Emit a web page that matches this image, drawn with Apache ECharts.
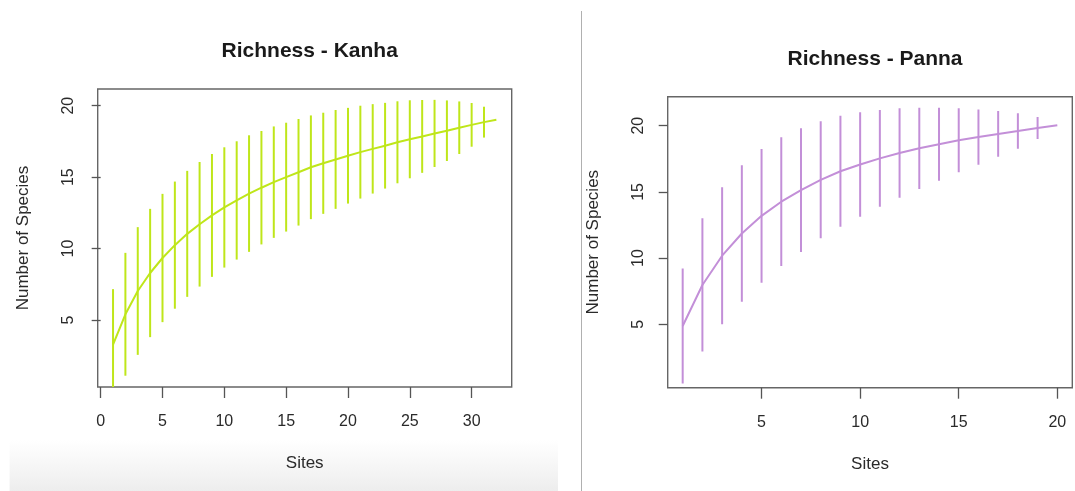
<!DOCTYPE html>
<html>
<head>
<meta charset="utf-8">
<script src="https://cdn.jsdelivr.net/npm/echarts@6/dist/echarts.min.js"></script>
<style>
html,body{margin:0;padding:0;background:#fff;}
#chart{width:1075px;height:491px;}
</style>
</head>
<body>
<div id="chart"></div>
<script>
// ---- Data ----
const kanhaSites = [1,2,3,4,5,6,7,8,9,10,11,12,13,14,15,16,17,18,19,20,21,22,23,24,25,26,27,28,29,30,31,32];
const kanhaRichness = [3.27,5.40,7.03,8.29,9.34,10.24,11.03,11.70,12.32,12.88,13.37,13.85,14.26,14.65,15.00,15.34,15.69,15.97,16.24,16.50,16.75,16.98,17.20,17.44,17.65,17.85,18.06,18.25,18.46,18.66,18.85,19.02];
const kanhaSD = [3.89,4.30,4.47,4.49,4.49,4.45,4.41,4.36,4.30,4.21,4.14,4.08,3.97,3.90,3.81,3.73,3.63,3.54,3.46,3.35,3.25,3.13,3.00,2.87,2.73,2.55,2.35,2.12,1.84,1.53,1.08,0];

const pannaSites = [1,2,3,4,5,6,7,8,9,10,11,12,13,14,15,16,17,18,19,20];
const pannaRichness = [4.87,7.97,10.18,11.86,13.19,14.26,15.13,15.91,16.56,17.07,17.53,17.94,18.29,18.60,18.90,19.14,19.38,19.60,19.83,20.03];
const pannaSD = [4.35,5.03,5.17,5.15,5.05,4.86,4.67,4.42,4.20,3.94,3.65,3.38,3.07,2.76,2.42,2.09,1.73,1.34,0.83,0];

const kanhaXTicks = [0,5,10,15,20,25,30];
const kanhaYTicks = [5,10,15,20];
const pannaXTicks = [5,10,15,20];
const pannaYTicks = [5,10,15,20];

const titles = ['Richness - Kanha', 'Richness - Panna'];
const xName = 'Sites';
const yName = 'Number of Species';

const kanhaColor = '#bfe61a';
const pannaColor = '#c38fd8';

// ---- Build ----
const FONT = '"Liberation Sans", Arial, Helvetica, sans-serif';
const chart = echarts.init(document.getElementById('chart'), null, {renderer:'canvas'});

function lineData(x, y){ return x.map((v,i)=>[v,y[i]]); }
function barData(x, y, sd){ return x.map((v,i)=>[v, y[i]-sd[i], y[i]+sd[i]]); }

function errRender(color){
  return function(params, api){
    const x = api.value(0);
    const p1 = api.coord([x, api.value(1)]);
    const p2 = api.coord([x, api.value(2)]);
    return {
      type:'line',
      shape:{x1:p1[0], y1:p1[1], x2:p2[0], y2:p2[1]},
      style:{stroke:color, lineWidth:2}
    };
  };
}

function xAxis(grid, min, max, ticks){
  return {
    type:'value', gridIndex:grid, min:min, max:max,
    splitLine:{show:false},
    axisLine:{show:false},
    axisTick:{show:true, inside:false, length:11, customValues:ticks, lineStyle:{color:'#555', width:1.3}},
    axisLabel:{show:true, customValues:ticks, margin:27, fontSize:16, color:'#2a2a2a', fontFamily:FONT},
    name:xName, nameLocation:'middle', nameGap:68,
    nameTextStyle:{fontSize:17, color:'#2a2a2a', fontFamily:FONT}
  };
}
function yAxis(grid, min, max, ticks){
  return {
    type:'value', gridIndex:grid, min:min, max:max,
    splitLine:{show:false},
    axisLine:{show:false},
    axisTick:{show:true, inside:false, length:9, customValues:ticks, lineStyle:{color:'#555', width:1.3}},
    axisLabel:{show:true, customValues:ticks, rotate:90, margin:21, fontSize:16, color:'#2a2a2a', fontFamily:FONT},
    name:yName, nameLocation:'middle', nameGap:66, nameRotate:90,
    nameTextStyle:{fontSize:17, color:'#2a2a2a', fontFamily:FONT}
  };
}

const option = {
  backgroundColor:'#fff',
  animation:false,
  title:[
    {text:titles[0], left:304.7, top:36, textAlign:'center',
     textStyle:{fontSize:21, fontWeight:'bold', color:'#1a1a1a', fontFamily:FONT}},
    {text:titles[1], left:870, top:44, textAlign:'center',
     textStyle:{fontSize:21, fontWeight:'bold', color:'#1a1a1a', fontFamily:FONT}}
  ],
  graphic:[
    {type:'rect', z:-10, silent:true, shape:{x:9.6, y:440, width:548.4, height:51},
     style:{fill:new echarts.graphic.LinearGradient(0,0,0,1,[{offset:0,color:'rgba(238,238,238,0)'},{offset:1,color:'#ededed'}])}},
    {type:'line', z:10, silent:true, shape:{x1:581.5, y1:11, x2:581.5, y2:491},
     style:{stroke:'#b0b0b0', lineWidth:1}}
  ],
  grid:[
    {left:97.7, top:89, width:414, height:298, show:true, borderColor:'#666', borderWidth:1.4, backgroundColor:'transparent'},
    {left:667.7, top:96.7, width:404.6, height:291, show:true, borderColor:'#666', borderWidth:1.4, backgroundColor:'transparent'}
  ],
  xAxis:[
    xAxis(0, -0.24, 33.24, kanhaXTicks),
    xAxis(1, 0.24, 20.76, pannaXTicks)
  ],
  yAxis:[
    yAxis(0, 0.31, 21.17, kanhaYTicks),
    yAxis(1, 0.21, 22.19, pannaYTicks)
  ],
  series:[
    {type:'custom', xAxisIndex:0, yAxisIndex:0, clip:true, renderItem:errRender(kanhaColor),
     data:barData(kanhaSites, kanhaRichness, kanhaSD), encode:{x:0, y:[1,2]}},
    {type:'line', xAxisIndex:0, yAxisIndex:0, showSymbol:false, clip:true,
     lineStyle:{color:kanhaColor, width:2}, itemStyle:{color:kanhaColor},
     data:lineData(kanhaSites, kanhaRichness)},
    {type:'custom', xAxisIndex:1, yAxisIndex:1, clip:true, renderItem:errRender(pannaColor),
     data:barData(pannaSites, pannaRichness, pannaSD), encode:{x:0, y:[1,2]}},
    {type:'line', xAxisIndex:1, yAxisIndex:1, showSymbol:false, clip:true,
     lineStyle:{color:pannaColor, width:2}, itemStyle:{color:pannaColor},
     data:lineData(pannaSites, pannaRichness)}
  ]
};
chart.setOption(option);
</script>
</body>
</html>
